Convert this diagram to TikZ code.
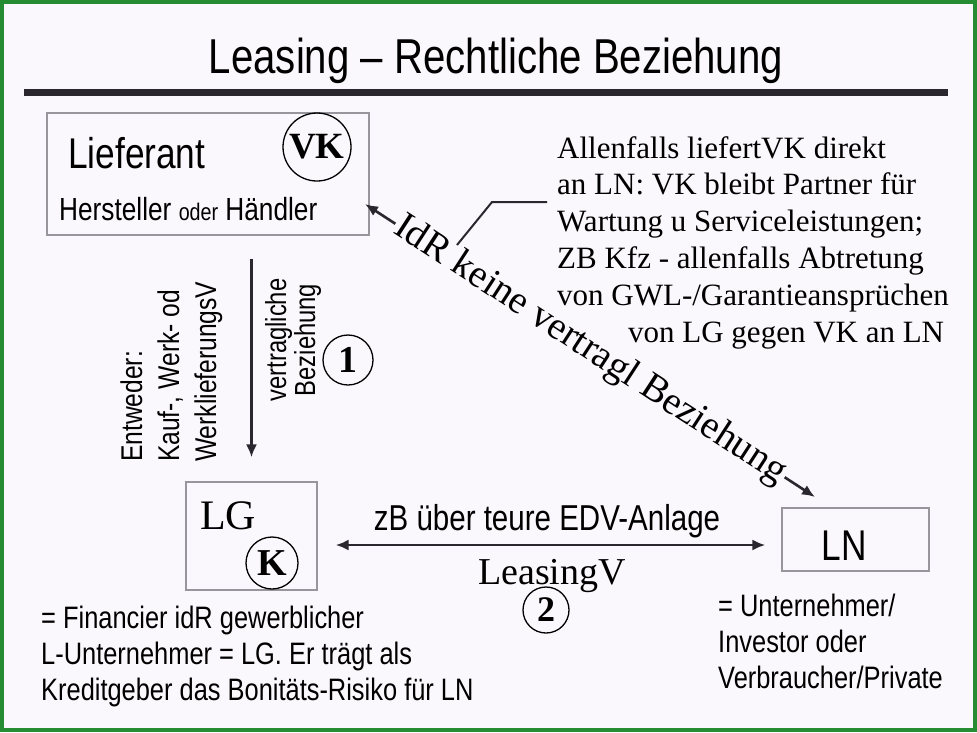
\documentclass[tikz,border=0pt]{standalone}
\usepackage{fontspec}
\setmainfont{Liberation Serif}
\newfontfamily\narrowsf{Liberation Sans}[FakeStretch=0.82]
\usetikzlibrary{arrows.meta,calc}

\definecolor{pagebg}{RGB}{250,248,252}
\definecolor{framegreen}{RGB}{38,140,52}
\definecolor{boxgray}{RGB}{150,150,156}
\definecolor{inkgray}{RGB}{42,40,46}

\newcommand{\fsz}[2]{\fontsize{#1}{#2}\selectfont}

\begin{document}
\begin{tikzpicture}[x=1pt, y=-1pt,
  partybox/.style={draw=boxgray, line width=1.2pt, inner sep=0pt},
  numcirc/.style={draw, circle, line width=1.3pt, inner sep=0pt},
  relarrow/.style={draw=inkgray, line width=2.6pt, -{Latex[length=13pt,width=11pt]}},
  dblarrow/.style={draw=inkgray, line width=2.6pt, {Latex[length=13pt,width=11pt]}-{Latex[length=13pt,width=11pt]}},
  leader/.style={draw=inkgray, line width=2pt}]
  \useasboundingbox (0,0) rectangle (977,732);
  \fill[pagebg] (0,0) rectangle (977,732);
  \draw[framegreen, line width=4pt] (2,2) rectangle (975,730);

  % title and rule
  \node[anchor=base, inner sep=0pt, font=\narrowsf\fsz{49}{49}] (title) at (496,73) {Leasing – Rechtliche Beziehung};
  \draw[inkgray, line width=7pt] (24,92.5) -- (948,92.5);

  % Lieferant
  \node[partybox, minimum width=322pt, minimum height=122pt] (lief) at (208,174) {};
  \node[anchor=base west, inner sep=0pt, font=\narrowsf\fsz{43}{43}] (liefname) at (68,168) {Lieferant};
  \node[anchor=base west, inner sep=0pt, font=\narrowsf\fsz{32}{32}] (liefkind) at (59,220) {Hersteller {\fsz{24}{24}oder} Händler};
  \node[numcirc, minimum size=68pt, font=\bfseries\fsz{37}{37}] (vk) at (317,147) {VK};

  % Leasinggeber
  \node[partybox, minimum width=131pt, minimum height=108pt] (lg) at (251.5,536) {};
  \node[anchor=base west, inner sep=0pt, font=\fsz{42}{42}] (lgname) at (200,529) {LG};
  \node[numcirc, minimum size=52pt, font=\bfseries\fsz{38}{38}] (kcirc) at (272,563) {K};

  % Leasingnehmer
  \node[partybox, minimum width=147pt, minimum height=63pt] (ln) at (855.5,539.5) {};
  \node[anchor=base, inner sep=0pt, font=\narrowsf\fsz{43}{43}] (lnname) at (844,560) {LN};

  % 1: Lieferant -> LG
  \draw[relarrow, shorten <=23pt, shorten >=24pt] (lg.north |- lief.south) -- (lg.north);
  \node[rotate=90, anchor=base west, align=left, inner sep=0pt, font=\narrowsf\fsz{30}{37}] (kind) at (216,462) {Entweder:\\Kauf-, Werk- od\\WerklieferungsV};
  \node[rotate=90, anchor=base, align=center, inner sep=0pt, font=\narrowsf\fsz{29}{29}] (vtr) at (315,340) {vertragliche\\Beziehung};
  \node[numcirc, minimum size=50pt, font=\bfseries\fsz{38}{38}] (one) at (348,360) {1};

  % 2: LG <-> LN
  \draw[dblarrow, shorten <=18pt, shorten >=16pt] ([yshift=-9pt]lg.east) -- ([yshift=-9pt]lg.east -| ln.west);
  \node[anchor=base, inner sep=0pt, font=\narrowsf\fsz{36}{36}] (edv) at (547,530) {zB über teure EDV-Anlage};
  \node[anchor=base, inner sep=0pt, font=\fsz{38}{38}] (lsv) at (552,584) {LeasingV};
  \node[numcirc, minimum size=46pt, font=\bfseries\fsz{36}{36}] (two) at (546,610) {2};

  % keine vertragliche Beziehung
  \coordinate (idrtail) at (365,204);
  \coordinate (idrhead) at (815,497);
  \draw[dblarrow] (idrtail) -- (idrhead)
    node[midway, sloped, fill=pagebg, inner xsep=2pt, inner ysep=0pt, font=\fsz{39}{39}] (idr) {IdR keine vertragl Beziehung};

  % note on the right
  \node[anchor=base west, align=left, inner sep=0pt, font=\fsz{31}{36.8}] (note) at (557,342)
    {Allenfalls liefertVK direkt\\an LN: VK bleibt Partner für\\Wartung u Serviceleistungen;\\ZB Kfz - allenfalls Abtretung\\von GWL-/Garantieansprüchen\\\hspace*{71pt}von LG gegen VK an LN};
  \coordinate (leadA) at (457,245);
  \coordinate (leadB) at (492,202);
  \draw[leader] (leadA) -- (leadB) -- ([xshift=-10pt]leadB -| note.west);

  % notes at the bottom
  \node[anchor=base west, align=left, inner sep=0pt, font=\narrowsf\fsz{31}{36}] (lgnote) at (41,700)
    {= Financier idR gewerblicher\\L-Unternehmer = LG. Er trägt als\\Kreditgeber das Bonitäts-Risiko für LN};
  \node[anchor=base west, align=left, inner sep=0pt, font=\narrowsf\fsz{31}{36}] (lnnote) at (718,688)
    {= Unternehmer/\\Investor oder\\Verbraucher/Private};
\end{tikzpicture}
\end{document}
